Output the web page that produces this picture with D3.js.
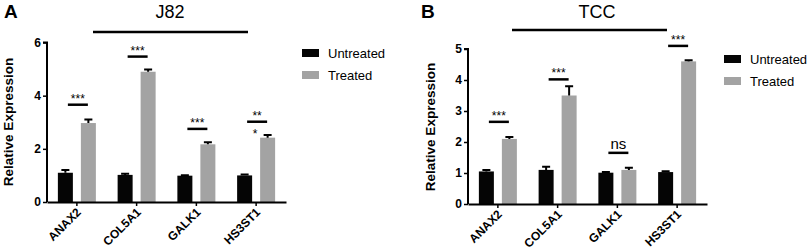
<!DOCTYPE html>
<html>
<head>
<meta charset="utf-8">
<script src="https://cdn.jsdelivr.net/npm/d3@7"></script>
<style>
  body { margin: 0; background: #fff; }
  svg { font-family: "Liberation Sans", Arial, sans-serif; }
</style>
</head>
<body>
<div id="chart"></div>
<script>
// data
const genes = ["ANAX2", "COL5A1", "GALK1", "HS3ST1"];
const groups = ["Untreated", "Treated"];

const j82Untreated = [1.1, 1.02, 0.99, 1.0];
const j82UntreatedErr = [0.1, 0.04, 0.02, 0.03];
const j82Treated = [2.97, 4.9, 2.17, 2.42];
const j82TreatedErr = [0.13, 0.08, 0.08, 0.1];
const j82Sig = ["***", "***", "***", "**"];
const j82SigAt = [3.66, 5.47, 2.75, 3.02];
const j82Ticks = [0, 2, 4, 6];

const tccUntreated = [1.05, 1.1, 1.01, 1.03];
const tccUntreatedErr = [0.05, 0.1, 0.02, 0.03];
const tccTreated = [2.1, 3.5, 1.1, 4.6];
const tccTreatedErr = [0.06, 0.3, 0.07, 0.04];
const tccSig = ["***", "***", "ns", "***"];
const tccSigAt = [2.65, 4.02, 1.65, 5.1];
const tccTicks = [0, 1, 2, 3, 4, 5];

const svg = d3.select("#chart").append("svg")
    .attr("width", 809)
    .attr("height", 252);

const colors = {Untreated: "#050505", Treated: "#a3a3a3"};

function drawPanel(p) {
    let g = svg.append("g").attr("transform", "translate(" + p.left + ",0)");

    let x = d3.scaleBand()
        .domain(genes)
        .range([0, p.axisW]);

    let y = d3.scaleLinear()
        .domain([0, p.yMax])
        .range([p.y0, p.yTop]);

    // panel letter
    svg.append("text")
        .attr("x", p.letterX)
        .attr("y", 18)
        .attr("font-size", 19)
        .attr("font-weight", "bold")
        .text(p.letter);

    // title + line
    svg.append("text")
        .attr("x", p.titleX)
        .attr("y", 18)
        .attr("text-anchor", "middle")
        .attr("font-size", 18)
        .text(p.title);
    svg.append("line")
        .attr("x1", p.lineX[0]).attr("x2", p.lineX[1])
        .attr("y1", p.lineY).attr("y2", p.lineY)
        .attr("stroke", "#000")
        .attr("stroke-width", 2.5);

    // bars
    let rows = genes.map((gene, i) => [
        {gene: gene, grp: "Untreated", v: p.untreated[i], e: p.untreatedErr[i], off: -11.5},
        {gene: gene, grp: "Treated", v: p.treated[i], e: p.treatedErr[i], off: 11.5}
    ]).flat();

    g.selectAll(".bar")
        .data(rows)
        .enter()
        .append("rect")
        .attr("class", "bar")
        .attr("x", d => x(d.gene) + x.bandwidth() / 2 + d.off - 7.5)
        .attr("width", 15)
        .attr("y", d => y(d.v))
        .attr("height", d => y(0) - y(d.v))
        .attr("fill", d => colors[d.grp]);

    // error bars (upper only)
    g.selectAll(".err")
        .data(rows)
        .enter()
        .append("path")
        .attr("class", "err")
        .attr("d", d => {
            let cx = x(d.gene) + x.bandwidth() / 2 + d.off;
            return "M" + cx + "," + y(d.v) + "V" + y(d.v + d.e) +
                "M" + (cx - 4) + "," + y(d.v + d.e) + "H" + (cx + 4);
        })
        .attr("stroke", "#000")
        .attr("stroke-width", 2)
        .attr("fill", "none");

    // significance marks
    genes.forEach((gene, i) => {
        let cx = x(gene) + x.bandwidth() / 2 + 1;
        let yy = y(p.sigAt[i]);
        g.append("line")
            .attr("x1", cx - 10).attr("x2", cx + 10)
            .attr("y1", yy).attr("y2", yy)
            .attr("stroke", "#000")
            .attr("stroke-width", 2.5);
        g.append("text")
            .attr("x", cx)
            .attr("y", yy - (p.sig[i] == "ns" ? 4 : 2))
            .attr("text-anchor", "middle")
            .attr("font-size", p.sig[i] == "ns" ? 15 : 12)
            .text(p.sig[i]);
    });
    if (p.extraStar) {
        let cx = x(genes[3]) + x.bandwidth() / 2 - 1;
        g.append("text")
            .attr("x", cx)
            .attr("y", y(p.extraStar) + 6)
            .attr("text-anchor", "middle")
            .attr("font-size", 12)
            .text("*");
    }

    // axes
    let yAxis = g.append("g")
        .call(d3.axisLeft(y).tickValues(p.ticks).tickFormat(d3.format("d"))
            .tickSize(4).tickPadding(2));
    let xAxis = g.append("g")
        .attr("transform", "translate(0," + p.y0 + ")")
        .call(d3.axisBottom(x).tickSize(4).tickSizeOuter(0).tickFormat(""));
    [yAxis, xAxis].forEach(a => {
        a.select(".domain").attr("stroke-width", 2);
        a.selectAll(".tick line").attr("stroke-width", 1.5);
    });
    yAxis.select(".domain").attr("d", "M-4," + y(p.yMax) + "H0V" + p.y0);
    yAxis.selectAll("text")
        .attr("font-size", 12)
        .attr("font-weight", "bold")
        .attr("font-family", "Liberation Sans, Arial, sans-serif");

    // rotated gene labels
    genes.forEach(gene => {
        let cx = x(gene) + x.bandwidth() / 2 + 2;
        g.append("text")
            .attr("transform", "translate(" + cx + "," + (p.y0 + 8) + ") rotate(-45)")
            .attr("text-anchor", "end")
            .attr("dy", "0.35em")
            .attr("font-size", 12)
            .attr("font-weight", "bold")
            .text(gene);
    });

    // y label
    svg.append("text")
        .attr("transform", "translate(" + p.yLabelX + "," + p.yLabelY + ") rotate(-90)")
        .attr("text-anchor", "middle")
        .attr("font-size", 13.5)
        .attr("font-weight", "bold")
        .text("Relative Expression");

    // legend
    groups.forEach((grp, i) => {
        let ly = p.legendY + i * 22;
        svg.append("rect")
            .attr("x", p.legendX)
            .attr("y", ly - 4)
            .attr("width", 17)
            .attr("height", 8)
            .attr("fill", colors[grp]);
        svg.append("text")
            .attr("x", p.legendX + 26)
            .attr("y", ly)
            .attr("dy", "0.35em")
            .attr("font-size", 13)
            .text(grp);
    });
}

drawPanel({
    letter: "A", letterX: 4, title: "J82", titleX: 170,
    lineX: [93, 248], lineY: 32,
    left: 47, axisW: 239, y0: 202, yTop: 42.5, yMax: 6, ticks: j82Ticks,
    untreated: j82Untreated, untreatedErr: j82UntreatedErr,
    treated: j82Treated, treatedErr: j82TreatedErr,
    sig: j82Sig, sigAt: j82SigAt, extraStar: 2.64,
    yLabelX: 13, yLabelY: 122,
    legendX: 302, legendY: 53
});

drawPanel({
    letter: "B", letterX: 421, title: "TCC", titleX: 597,
    lineX: [512, 667], lineY: 30,
    left: 468, axisW: 239, y0: 204, yTop: 49, yMax: 5, ticks: tccTicks,
    untreated: tccUntreated, untreatedErr: tccUntreatedErr,
    treated: tccTreated, treatedErr: tccTreatedErr,
    sig: tccSig, sigAt: tccSigAt, extraStar: null,
    yLabelX: 435, yLabelY: 127,
    legendX: 724, legendY: 59
});
</script>
</body>
</html>
